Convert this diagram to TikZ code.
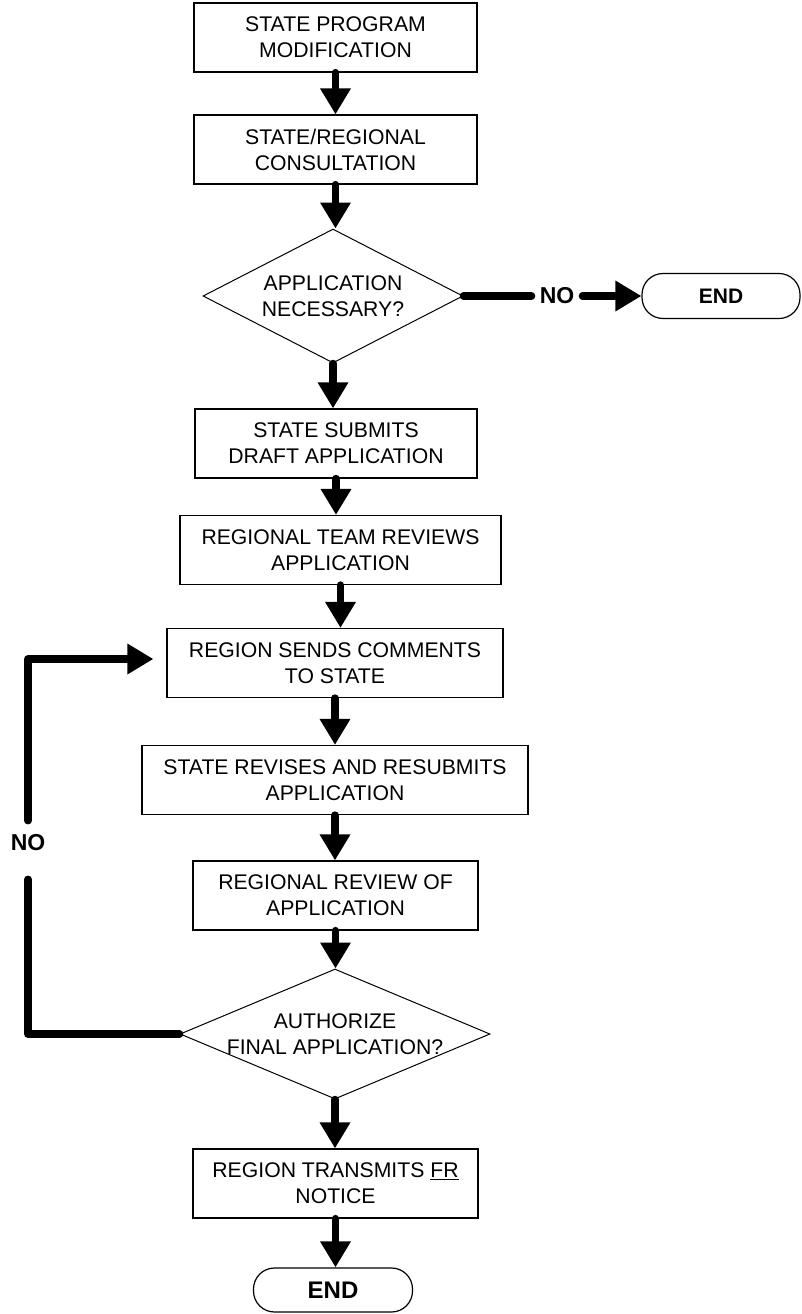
\documentclass[tikz,border=0pt]{standalone}
\usepackage{fontspec}
\setmainfont{Liberation Sans}
\usetikzlibrary{shapes.geometric, arrows.meta, positioning}

\begin{document}
\begin{tikzpicture}[
    x=1pt, y=-1pt,
    font=\fontsize{21.2}{26}\selectfont,
    proc/.style={rectangle, draw, line width=1.2pt, minimum height=69pt, align=center, inner sep=2pt},
    decide/.style={diamond, draw, line width=1pt, aspect=2, inner xsep=0pt, inner ysep=-10pt, align=center},
    term/.style={rectangle, draw, line width=1.2pt, rounded corners=21pt, minimum width=158pt, minimum height=45pt, font=\fontsize{21}{26}\selectfont\bfseries},
    lbl/.style={inner sep=8pt, font=\fontsize{23}{26}\selectfont\bfseries},
    link/.style={line width=7.5pt, line cap=round, line join=round},
    flow/.style={link, -{Triangle[width=29pt, length=26pt]}}
]
\useasboundingbox (0,0) rectangle (801,1314);

% main column
\node[proc, minimum width=283pt] (mod) at (335.5,37.5) {STATE PROGRAM\\MODIFICATION};
\node[proc, minimum width=283pt] (consult) at (335.5,149.5) {STATE/REGIONAL\\CONSULTATION};
\node[decide, minimum width=260pt, minimum height=134pt] (need) at (333,296) {APPLICATION\\NECESSARY?};
\node[proc, minimum width=282pt] (draft) at (336,443.5) {STATE SUBMITS\\DRAFT APPLICATION};
\node[proc, minimum width=321pt] (team) at (340.5,550) {REGIONAL TEAM REVIEWS\\APPLICATION};
\node[proc, minimum width=336pt] (comments) at (335,663) {REGION SENDS COMMENTS\\TO STATE};
\node[proc, minimum width=386pt] (revise) at (335,780) {STATE REVISES AND RESUBMITS\\APPLICATION};
\node[proc, minimum width=285pt] (review) at (335.5,895.5) {REGIONAL REVIEW OF\\APPLICATION};
\node[decide, minimum width=310pt, minimum height=130pt] (auth) at (335,1034) {AUTHORIZE\\FINAL APPLICATION?};
\node[proc, minimum width=285pt] (notice) at (335.5,1183.5) {REGION TRANSMITS \underline{FR}\\NOTICE};
\node[term, minimum width=159pt, minimum height=44pt, font=\fontsize{24}{26}\selectfont\bfseries] (endB) at (333,1290) {END};

\foreach \a/\b in {mod/consult, consult/need, need/draft, draft/team, team/comments,
                   comments/revise, revise/review, review/auth, auth/notice, notice/endB} {
    \draw[flow] (\a.south) -- (\a.south |- \b.north);
}

% no application needed
\node[lbl] (noA) at (557,296) {NO};
\node[term] (endA) at (721,296) {END};
\draw[link] (need.east) -- (noA.west);
\draw[flow] (noA.east) -- (endA.west);

% loop back when not authorized
\coordinate (loopB) at (28,1034);
\coordinate (loopT) at (28,659);
\node[lbl] (noB) at (28,843) {NO};
\draw[link, shorten >=20pt] (auth.west) -- (loopB) -- (noB.south);
\draw[flow, shorten <=6pt, shorten >=13pt] (noB.north) -- (loopT) -- (loopT -| comments.west);
\end{tikzpicture}
\end{document}
